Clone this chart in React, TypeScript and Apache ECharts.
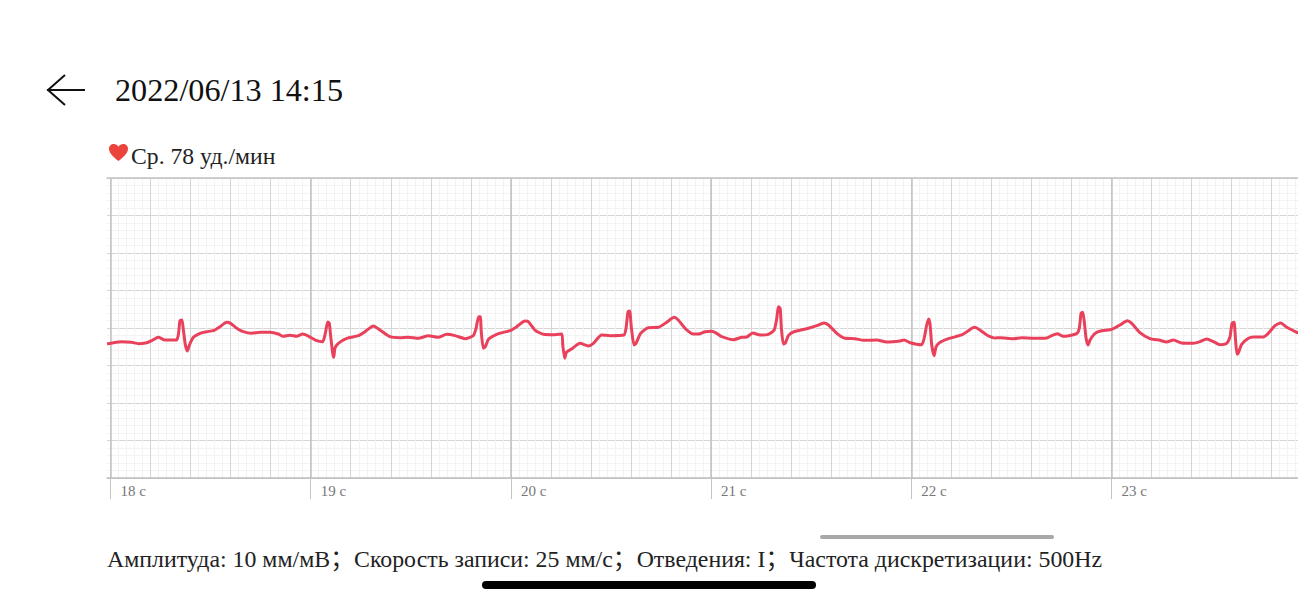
import React, { useEffect, useRef } from "react";
import * as echarts from "echarts";

const TITLE = "2022/06/13 14:15";
const AVERAGE = "Ср. 78 уд./мин";
const FOOTER = "Амплитуда: 10 мм/мВ；Скорость записи: 25 мм/с；Отведения: I；Частота дискретизации: 500Hz";
const SECOND_TICKS = [18, 19, 20, 21, 22, 23];

const beatSeconds1 = [17.983,18.014,18.056,18.106,18.139,18.181,18.206,18.239,18.272,18.33,18.34,18.347,18.357,18.364,18.374,18.384,18.394,18.414,18.447,18.48,18.514,18.547,18.58,18.6,18.63,18.663,18.705,18.747,18.797,18.838,18.863,18.897,18.93,18.96,18.988,19.03,19.06,19.073,19.085,19.093,19.1,19.11,19.115,19.121,19.138,19.18,19.238,19.271,19.313,19.346,19.396];
const beatValues1 = [-0.213,-0.196,-0.182,-0.191,-0.209,-0.196,-0.169,-0.124,-0.16,-0.16,-0.071,0.098,0.107,-0.027,-0.227,-0.307,-0.227,-0.124,-0.071,-0.049,-0.036,0.018,0.076,0.062,-0.004,-0.049,-0.071,-0.058,-0.058,-0.08,-0.111,-0.098,-0.111,-0.08,-0.107,-0.169,-0.182,-0.071,0.08,0.062,-0.116,-0.338,-0.391,-0.271,-0.205,-0.138,-0.102,-0.049,0.027,-0.027,-0.116];

const beatSeconds2 = [19.446,19.488,19.538,19.588,19.637,19.679,19.721,19.771,19.812,19.826,19.839,19.847,19.852,19.862,19.872,19.889,19.929,19.962,19.995,20.029,20.07,20.087,20.12,20.162,20.212,20.254,20.259,20.269,20.277,20.303,20.345,20.387,20.412,20.453,20.495,20.565,20.575,20.585,20.593,20.602,20.615,20.625,20.648,20.686,20.736,20.778,20.815,20.836,20.87,20.911];
const beatValues2 = [-0.129,-0.124,-0.138,-0.102,-0.124,-0.084,-0.102,-0.142,-0.102,-0.004,0.151,0.151,-0.049,-0.271,-0.249,-0.147,-0.084,-0.058,-0.036,0.018,0.093,0.084,-0.027,-0.084,-0.089,-0.08,-0.227,-0.404,-0.324,-0.28,-0.204,-0.24,-0.204,-0.093,-0.102,-0.093,-0.004,0.218,0.227,-0.004,-0.227,-0.204,-0.071,0.004,0.009,0.076,0.142,0.107,-0.004,-0.08];

const beatSeconds3 = [20.945,20.97,21.003,21.028,21.053,21.111,21.153,21.178,21.208,21.245,21.286,21.315,21.328,21.336,21.345,21.351,21.361,21.37,21.386,21.411,21.486,21.528,21.564,21.586,21.628,21.669,21.719,21.761,21.827,21.877,21.944,21.964,21.994,22.052,22.064,22.077,22.087,22.094,22.102,22.114,22.124,22.144,22.185,22.252,22.285,22.315,22.335,22.377,22.419];
const beatValues3 = [-0.076,-0.049,-0.044,-0.071,-0.116,-0.156,-0.124,-0.12,-0.067,-0.093,-0.084,-0.027,0.129,0.284,0.262,-0.004,-0.213,-0.204,-0.102,-0.053,-0.004,0.031,0.067,0.04,-0.071,-0.138,-0.142,-0.164,-0.16,-0.187,-0.173,-0.16,-0.196,-0.222,-0.138,0.04,0.12,0.04,-0.227,-0.369,-0.249,-0.191,-0.142,-0.093,-0.036,0.009,-0.013,-0.093,-0.133];

const beatSeconds4 = [22.443,22.51,22.551,22.61,22.676,22.701,22.729,22.759,22.826,22.839,22.848,22.856,22.863,22.873,22.883,22.893,22.918,22.951,23.001,23.042,23.079,23.101,23.142,23.192,23.242,23.275,23.309,23.35,23.409,23.442,23.475,23.509,23.542,23.575,23.592,23.602,23.612,23.619,23.627,23.635,23.65,23.684,23.709,23.758,23.783,23.817,23.845,23.875,23.932];
const beatValues4 = [-0.129,-0.142,-0.129,-0.138,-0.133,-0.102,-0.076,-0.111,-0.076,-0.004,0.196,0.209,0.107,-0.138,-0.227,-0.16,-0.071,-0.036,-0.018,0.04,0.098,0.062,-0.062,-0.142,-0.164,-0.187,-0.16,-0.2,-0.204,-0.182,-0.147,-0.182,-0.222,-0.204,-0.116,0.062,0.076,-0.138,-0.351,-0.324,-0.218,-0.138,-0.12,-0.12,-0.071,0.031,0.067,0.009,-0.067];

const seconds = [...beatSeconds1, ...beatSeconds2, ...beatSeconds3, ...beatSeconds4];
const millivolts = [...beatValues1, ...beatValues2, ...beatValues3, ...beatValues4];

const X_MIN = 17.9825;
const X_MAX = 23.9315;
const SERIF = '"Liberation Serif", "Noto Sans CJK SC", serif';
const HEART = "M10 18 C4 13 0 9.5 0 5 C0 2 2.3 0 5 0 C7 0 9 1 10 3 C11 1 13 0 15 0 C17.7 0 20 2 20 5 C20 9.5 16 13 10 18 Z";

function gridValues(step: number): number[] {
  const out: number[] = [];
  for (let k = 0; k <= Math.round(6 / step); k++) out.push(+(18 + k * step).toFixed(2));
  return out;
}

function verticalAxis(values: number[], color: string, width: number, position: string, edge: boolean) {
  return {
    type: "value",
    min: X_MIN,
    max: X_MAX,
    position,
    axisLine: { show: edge, onZero: false, lineStyle: { color: "#c2c2c2", width: 1.5 } },
    axisTick: { show: false, customValues: values },
    axisLabel: { show: false, customValues: values },
    splitLine: { show: true, lineStyle: { color, width } },
  };
}

export default function App() {
  const ref = useRef<HTMLDivElement>(null);

  useEffect(() => {
    if (!ref.current) return;
    echarts.graphic.registerShape("heartMark", echarts.graphic.extendPath(HEART, {}));
    const chart = echarts.init(ref.current, undefined, { renderer: "svg" });
    chart.setOption({
      animation: false,
      backgroundColor: "#ffffff",
      grid: { left: 107, right: 0, top: 178, height: 300, containLabel: false },
      xAxis: [
        verticalAxis(gridValues(0.04), "#f3f3f3", 1, "top", true),
        verticalAxis(gridValues(0.2), "#d4d4d4", 1, "bottom", false),
        {
          type: "value",
          min: X_MIN,
          max: X_MAX,
          position: "bottom",
          axisLine: { show: true, onZero: false, lineStyle: { color: "#bdbdbd", width: 1.5 } },
          axisTick: { show: true, length: 21, customValues: SECOND_TICKS, lineStyle: { color: "#c4c4c4", width: 1 } },
          axisLabel: {
            show: true,
            customValues: SECOND_TICKS,
            formatter: (v: number) => `${v} c`,
            align: "left",
            margin: 5,
            padding: [0, 0, 0, 10],
            color: "#777777",
            fontFamily: SERIF,
            fontSize: 15,
          },
          splitLine: { show: true, lineStyle: { color: "#c2c2c2", width: 1.5 } },
        },
      ],
      yAxis: [
        {
          type: "value",
          min: -2,
          max: 2,
          interval: 0.5,
          axisLine: { show: false },
          axisTick: { show: false },
          axisLabel: { show: false },
          splitLine: { show: true, lineStyle: { color: "#d6d6d6", width: 1 } },
          minorTick: { show: false, splitNumber: 5 },
          minorSplitLine: { show: true, lineStyle: { color: "#f3f3f3", width: 1 } },
        },
      ],
      series: [
        {
          type: "line",
          xAxisIndex: 2,
          yAxisIndex: 0,
          data: seconds.map((t, i) => [t, millivolts[i]]),
          showSymbol: false,
          smooth: 0.2,
          lineStyle: { color: "#e9415b", width: 3 },
          clip: true,
        },
      ],
      graphic: [
        {
          type: "polyline",
          shape: { points: [[85, 90], [47, 90]] },
          style: { stroke: "#111111", lineWidth: 2, fill: "none" },
        },
        {
          type: "polyline",
          shape: { points: [[65, 75], [48, 90], [65, 105]] },
          style: { stroke: "#111111", lineWidth: 2, fill: "none" },
        },
        {
          type: "text",
          x: 115,
          y: 89.5,
          style: { text: TITLE, font: `32.2px ${SERIF}`, fill: "#111111", verticalAlign: "middle" },
        },
        {
          type: "heartMark",
          x: 109,
          y: 144,
          scaleX: 0.95,
          scaleY: 0.95,
          style: { fill: "#ea443d" },
        },
        {
          type: "text",
          x: 131,
          y: 156,
          style: { text: AVERAGE, font: `23.7px ${SERIF}`, fill: "#222222", verticalAlign: "middle" },
        },
        {
          type: "rect",
          shape: { x: 820, y: 535, width: 234, height: 4, r: 2 },
          style: { fill: "#a8a8a8" },
        },
        {
          type: "text",
          x: 107,
          y: 559,
          style: { text: FOOTER, font: `23.85px ${SERIF}`, fill: "#222222", verticalAlign: "middle" },
        },
        {
          type: "rect",
          shape: { x: 482, y: 581, width: 334, height: 8, r: 4 },
          style: { fill: "#000000" },
        },
      ],
    });
    return () => chart.dispose();
  }, []);

  return (
    <div
      ref={ref}
      style={{ position: "fixed", left: 0, top: 0, width: 1298, height: 600, overflow: "hidden" }}
    />
  );
}
